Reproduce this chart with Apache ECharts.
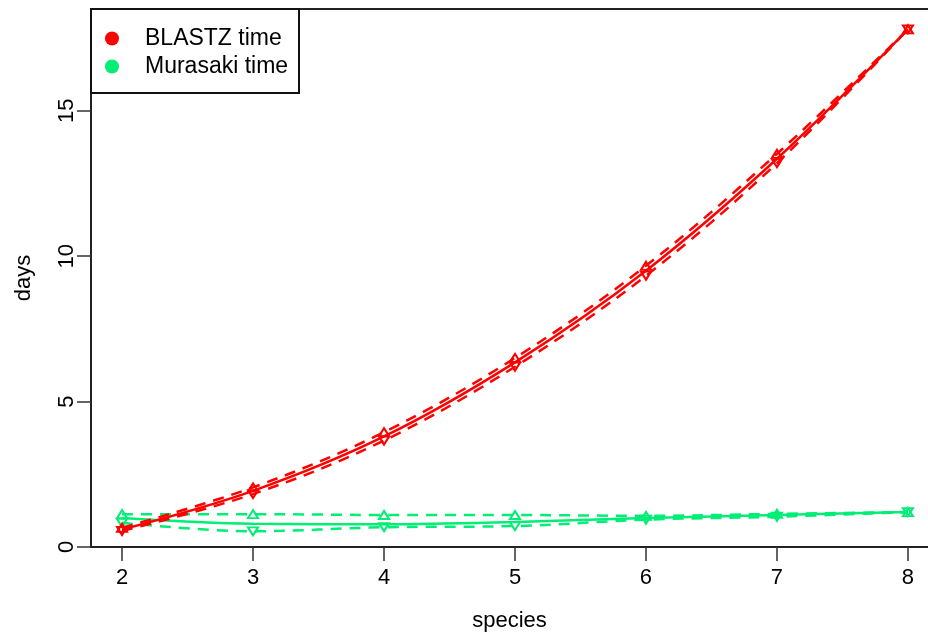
<!DOCTYPE html>
<html>
<head>
<meta charset="utf-8">
<script src="https://cdn.jsdelivr.net/npm/echarts@6/dist/echarts.min.js"></script>
<style>
  html, body { margin: 0; padding: 0; background: #fff; }
  #chart { width: 928px; height: 634px; }
</style>
</head>
<body>
<div id="chart"></div>
<script>
// Number of species aligned
const species = [2, 3, 4, 5, 6, 7, 8];

// Run time in days: mean with upper / lower bounds
const blastzMean  = [0.60, 1.93, 3.80, 6.35, 9.50, 13.35, 17.80];
const blastzUpper = [0.66, 2.05, 3.95, 6.50, 9.67, 13.52, 17.80];
const blastzLower = [0.55, 1.82, 3.66, 6.20, 9.33, 13.20, 17.80];

const murasakiMean  = [1.00, 0.80, 0.78, 0.86, 1.00, 1.10, 1.20];
const murasakiUpper = [1.13, 1.13, 1.10, 1.10, 1.07, 1.14, 1.20];
const murasakiLower = [0.83, 0.54, 0.68, 0.72, 0.94, 1.04, 1.20];

const xTicks = [2, 3, 4, 5, 6, 7, 8];
const yTicks = [0, 5, 10, 15];

const RED = '#ff0000';
const GREEN = '#00ee76';
const FONT = "'Liberation Sans', Arial, Helvetica, sans-serif";
const AXIS = '#222';

// plot region runs past the right edge of the canvas
const X_MIN = 1.763, X_MAX = 8.153;

const pairs = (ys) => species.map((x, i) => [x, ys[i]]);

function meanSeries(name, ys, color) {
  return {
    name, type: 'line', data: pairs(ys), color,
    smooth: 0.35, showSymbol: false, symbol: 'none',
    lineStyle: { color, width: 2.5 },
    emphasis: { disabled: true }, silent: true
  };
}

function boundSeries(name, ys, color, up) {
  return {
    name, type: 'line', data: pairs(ys),
    smooth: 0.35,
    symbol: 'triangle', symbolSize: [10, 8], symbolRotate: up ? 0 : 180,
    itemStyle: { color: 'rgba(0,0,0,0)', borderColor: color, borderWidth: 2 },
    lineStyle: { color, width: 2.5, type: [11, 8] },
    emphasis: { disabled: true }, silent: true
  };
}

const chart = echarts.init(document.getElementById('chart'), null, { renderer: 'canvas' });

chart.setOption({
  animation: false,
  backgroundColor: '#fff',
  textStyle: { fontFamily: FONT },
  grid: { left: 91, top: 9, right: 0, bottom: 87, outerBoundsMode: 'none', containLabel: false },
  xAxis: [{
    type: 'value', min: X_MIN, max: X_MAX, position: 'bottom',
    name: 'species', nameLocation: 'middle', nameGap: 63,
    nameTextStyle: { fontSize: 22, color: '#000', fontFamily: FONT },
    axisLine: { show: true, onZero: false, lineStyle: { color: AXIS, width: 2 } },
    axisTick: { show: true, inside: false, length: 14, customValues: xTicks,
                lineStyle: { color: '#333', width: 1.5 } },
    axisLabel: { customValues: xTicks, fontSize: 22, color: '#000', margin: 20, fontFamily: FONT },
    splitLine: { show: false }
  }, {
    type: 'value', min: X_MIN, max: X_MAX, position: 'top',
    axisLine: { show: true, onZero: false, lineStyle: { color: AXIS, width: 2 } },
    axisTick: { show: false }, axisLabel: { show: false }, splitLine: { show: false }
  }],
  yAxis: {
    type: 'value', min: 0, max: 18.5,
    name: 'days', nameLocation: 'middle', nameGap: 56, nameRotate: 90,
    nameTextStyle: { fontSize: 22, color: '#000', fontFamily: FONT },
    axisLine: { show: true, onZero: false, lineStyle: { color: AXIS, width: 2 } },
    axisTick: { show: true, inside: false, length: 14, customValues: yTicks,
                lineStyle: { color: '#333', width: 1.5 } },
    axisLabel: { customValues: yTicks, fontSize: 22, color: '#000', margin: 13, rotate: 90, fontFamily: FONT },
    splitLine: { show: false }
  },
  legend: {
    left: 105, top: 27, orient: 'vertical',
    data: [{ name: 'BLASTZ time', icon: 'circle' }, { name: 'Murasaki time', icon: 'circle' }],
    itemWidth: 14, itemHeight: 14, itemGap: 5, selectedMode: false,
    padding: 0,
    textStyle: { fontSize: 23, color: '#000', fontFamily: FONT, padding: [0, 0, 0, 21] }
  },
  graphic: [{
    type: 'rect', z: 100,
    shape: { x: 91, y: 9, width: 208, height: 84 },
    style: { fill: 'none', stroke: '#111', lineWidth: 2 }
  }],
  series: [
    boundSeries('Murasaki upper', murasakiUpper, GREEN, true),
    boundSeries('Murasaki lower', murasakiLower, GREEN, false),
    meanSeries('Murasaki time', murasakiMean, GREEN),
    boundSeries('BLASTZ upper', blastzUpper, RED, true),
    boundSeries('BLASTZ lower', blastzLower, RED, false),
    meanSeries('BLASTZ time', blastzMean, RED)
  ]
});
</script>
</body>
</html>
